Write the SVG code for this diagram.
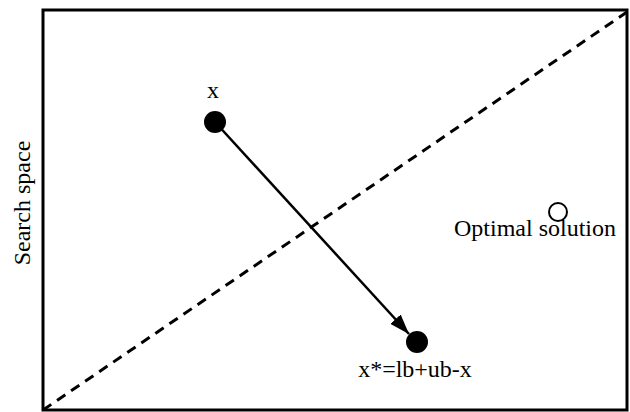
<svg xmlns="http://www.w3.org/2000/svg" width="630" height="412" viewBox="0 0 630 412">
<style>
text{font-family:"Liberation Serif","Times New Roman",serif;font-size:24px;fill:#000}
</style>
<defs>
<marker id="ah2" viewBox="0 0 20 14" refX="20" refY="7" markerWidth="20" markerHeight="14" markerUnits="userSpaceOnUse" orient="auto">
<path d="M0,0 L20,7 L0,14 z" fill="#000"/>
</marker>
</defs>
<rect id="frame" x="43" y="10" width="584" height="400" fill="#fff" stroke="#000" stroke-width="3"/>
<g id="connectors">
<line x1="43" y1="410" x2="627" y2="12" stroke="#000" stroke-width="3" stroke-dasharray="10,7"/>
<line x1="215" y1="122" x2="409" y2="334" stroke="#000" stroke-width="2.5" marker-end="url(#ah2)"/>
</g>
<g id="node-x">
<circle cx="215" cy="122" r="11" fill="#000"/>
<text x="213" y="98" text-anchor="middle">x</text>
</g>
<g id="node-xstar">
<circle cx="417" cy="342" r="11" fill="#000"/>
<text x="415" y="377" text-anchor="middle">x*=lb+ub-x</text>
</g>
<g id="node-optimal">
<circle cx="558" cy="212" r="9" fill="#fff" stroke="#000" stroke-width="2"/>
<text x="535" y="236" text-anchor="middle">Optimal solution</text>
</g>
<text x="0" y="0" text-anchor="middle" transform="translate(30,203) rotate(-90)">Search space</text>
</svg>
